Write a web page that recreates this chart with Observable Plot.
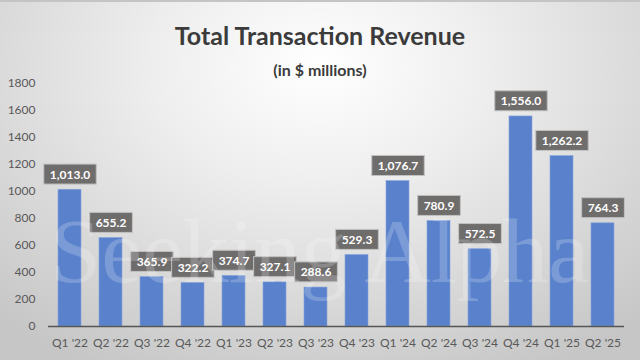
<!DOCTYPE html>
<html>
<head>
<meta charset="utf-8">
<script src="https://cdn.jsdelivr.net/npm/d3@7"></script>
<script src="https://cdn.jsdelivr.net/npm/@observablehq/plot@0.6"></script>
<style>
  html, body { margin: 0; padding: 0; background: #ffffff; }
  #frame {
    position: relative; width: 640px; height: 360px; overflow: hidden;
    background: radial-gradient(ellipse 75% 95% at 50% 18%, #ffffff 0%, #eeeeee 35%, #c6c6c6 100%);
    border-top: 2px solid #c4c4c4; box-sizing: border-box;
    font-family: Lato, "Open Sans", sans-serif;
  }
  #head { position: relative; height: 68px; }
  #title { position: absolute; left: 0; right: 0; top: 18px; text-align: center;
    font-size: 25px; font-weight: 700; color: #3b3b3b; line-height: 1.2; }
  #subtitle { position: absolute; left: 0; right: 0; top: 58px; text-align: center;
    font-size: 16px; font-weight: 700; color: #3b3b3b; line-height: 1.2; }
  #watermark { position: absolute; left: 50px; top: 203px; font-family: "Liberation Serif", serif;
    font-size: 92px; line-height: 92px; color: rgba(255,255,255,0.2); white-space: nowrap; pointer-events: none; }
  #strip { height: 3px; background: #ffffff; }
</style>
</head>
<body>
<div id="frame">
  <div id="head">
    <div id="title">Total Transaction Revenue</div>
    <div id="subtitle">(in $ millions)</div>
  </div>
  <div id="chart"></div>
  <div id="watermark">Seeking Alpha</div>
</div>
<div id="strip"></div>
<script>
const quarters = ["Q1 '22", "Q2 '22", "Q3 '22", "Q4 '22", "Q1 '23", "Q2 '23", "Q3 '23", "Q4 '23",
                  "Q1 '24", "Q2 '24", "Q3 '24", "Q4 '24", "Q1 '25", "Q2 '25"];
const revenue = [1013.0, 655.2, 365.9, 322.2, 374.7, 327.1, 288.6, 529.3,
                 1076.7, 780.9, 572.5, 1556.0, 1262.2, 764.3];
const yTicks = [0, 200, 400, 600, 800, 1000, 1200, 1400, 1600, 1800];

const data = quarters.map((q, i) => ({quarter: q, value: revenue[i]}));
const fmt = d3.format(",.1f");

const plot = Plot.plot({
  width: 640,
  height: 290,
  marginTop: 13,
  marginBottom: 34,
  marginLeft: 48,
  marginRight: 16,
  style: {background: "transparent", fontFamily: "Lato, 'Open Sans', sans-serif", fontSize: "12px", color: "#595959"},
  x: {domain: quarters, paddingInner: 0.44, paddingOuter: 0.22, label: null, tickSize: 0, tickPadding: 12},
  y: {domain: [0, 1800], ticks: yTicks, label: null, tickSize: 0, tickPadding: 13, tickFormat: d => String(d)},
  marks: [
    Plot.barY(data, {x: "quarter", y: "value", fill: "#5a82cc", stroke: "#86a2da", strokeWidth: 0.6}),
    Plot.ruleY([0], {stroke: "#555555", strokeWidth: 1.6}),
    Plot.text(data, {x: "quarter", y: "value", text: d => fmt(d.value), dy: -15,
      fill: "white", fontWeight: "bold", fontSize: 12, className: "vlabel"})
  ]
});
document.getElementById("chart").appendChild(plot);

// draw the dark label boxes behind each value label
const svgNS = "http://www.w3.org/2000/svg";
plot.querySelectorAll("g.vlabel").forEach(g => {
  g.querySelectorAll("text").forEach(t => {
    const b = t.getBBox();
    const cy = b.y + b.height / 2;
    const r = document.createElementNS(svgNS, "rect");
    r.setAttribute("x", b.x - 6);
    r.setAttribute("y", cy - 10);
    r.setAttribute("width", b.width + 12);
    r.setAttribute("height", 20);
    r.setAttribute("fill", "#6f6c6c");
    r.setAttribute("stroke", "#c2c2c2");
    r.setAttribute("stroke-width", 1);
    const tr = t.getAttribute("transform");
    if (tr) r.setAttribute("transform", tr);
    t.parentNode.insertBefore(r, t);
  });
});
</script>
</body>
</html>
